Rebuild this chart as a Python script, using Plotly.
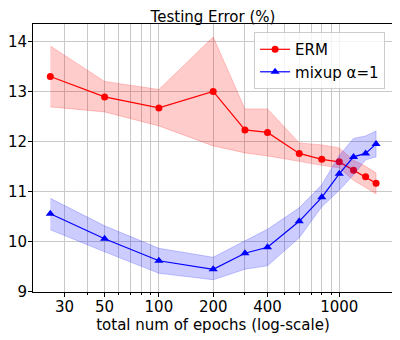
import plotly.graph_objects as go

# -----------------------------------------
# DATA
# -----------------------------------------
epochs = [25, 50, 100, 200, 300, 400, 600, 800, 1000, 1200, 1400, 1600]

erm_mean = [13.30, 12.89, 12.67, 13.00, 12.23, 12.18, 11.76, 11.64, 11.59, 11.42, 11.29, 11.16]
erm_upper = [13.91, 13.20, 13.04, 14.09, 12.65, 12.65, 11.97, 11.93, 11.87, 11.62, 11.50, 11.37]
erm_lower = [12.69, 12.59, 12.31, 11.91, 11.77, 11.71, 11.60, 11.52, 11.47, 11.22, 11.08, 10.95]

mixup_mean = [10.55, 10.05, 9.61, 9.44, 9.76, 9.88, 10.40, 10.88, 11.35, 11.69, 11.76, 11.95]
mixup_upper = [10.86, 10.31, 9.86, 9.68, 10.01, 10.24, 10.67, 11.13, 11.72, 12.06, 12.11, 12.21]
mixup_lower = [10.23, 9.79, 9.36, 9.23, 9.44, 9.51, 10.07, 10.69, 11.02, 11.33, 11.63, 11.69]

x_major = [30, 50, 100, 200, 400, 1000]
x_major_text = ["30", "50", "100", "200", "400", "1000"]
x_minor = [40, 60, 70, 80, 90, 300, 500, 600, 700, 800, 900]
y_ticks = [9, 10, 11, 12, 13, 14]

FONT = "DejaVu Sans"
GRID = "#c9c9c9"
FS = 15

# the page body keeps its default 8px margin, so the figure is 8px smaller
# than the window and every offset below is measured from that corner
W, H = 392, 332


# -----------------------------------------
# HELPERS
# -----------------------------------------
def band(x, upper, lower, rgba):
    # closed polygon: upper edge left->right, lower edge right->left
    return go.Scatter(
        x=list(x) + list(x)[::-1],
        y=list(upper) + list(lower)[::-1],
        fill="toself",
        fillcolor=rgba,
        line=dict(color=rgba, width=1),
        mode="lines",
        hoverinfo="skip",
        showlegend=False,
    )


def line(x, y, name, color, symbol, size):
    return go.Scatter(
        x=x, y=y, name=name,
        mode="lines+markers",
        line=dict(color=color, width=1.2),
        marker=dict(color=color, symbol=symbol, size=size),
    )


# -----------------------------------------
# FIGURE
# -----------------------------------------
fig = go.Figure()
fig.add_trace(band(epochs, erm_upper, erm_lower, "rgba(255,0,0,0.2)"))
fig.add_trace(line(epochs, erm_mean, "ERM", "#ff0000", "circle", 7))
fig.add_trace(band(epochs, mixup_upper, mixup_lower, "rgba(0,0,255,0.2)"))
fig.add_trace(line(epochs, mixup_mean, "mixup α=1", "#0000ff", "triangle-up", 8))

fig.update_xaxes(
    type="log",
    range=[1.302, 3.298],
    tickvals=x_major, ticktext=x_major_text,
    ticks="outside", ticklen=4, tickcolor="black",
    ticklabelstandoff=-3,
    showgrid=True, gridcolor=GRID, gridwidth=1,
    minor=dict(tickvals=x_minor, ticks="outside", ticklen=2,
               tickcolor="black", showgrid=True, gridcolor=GRID, gridwidth=1),
    showline=True, linecolor="black", linewidth=1, mirror=True,
    zeroline=False, automargin=False,
    title=dict(text="total num of epochs (log-scale)", standoff=2,
               font=dict(size=FS, family=FONT, color="black")),
    tickfont=dict(size=FS, family=FONT, color="black"),
)

fig.update_yaxes(
    range=[8.985, 14.35],
    tickvals=y_ticks,
    ticks="outside", ticklen=4, tickcolor="black",
    ticklabelstandoff=-2,
    showgrid=True, gridcolor=GRID, gridwidth=1,
    showline=True, linecolor="black", linewidth=1, mirror=True,
    zeroline=False, automargin=False,
    tickfont=dict(size=FS, family=FONT, color="black"),
)

fig.update_layout(
    width=W, height=H,
    margin=dict(l=25, r=7, t=16, b=48),
    paper_bgcolor="white", plot_bgcolor="white",
    title=dict(text="Testing Error (%)", x=0.5, xref="paper",
               y=1 - 8.5 / H, yref="container", yanchor="middle",
               font=dict(size=FS, family=FONT, color="black")),
    legend=dict(x=0.978, y=0.97, xanchor="right", yanchor="top",
                bgcolor="rgba(255,255,255,0.8)", bordercolor="#cccccc",
                borderwidth=1, font=dict(size=FS, family=FONT, color="black"),
                itemwidth=30, tracegroupgap=0),
    showlegend=True,
)

fig.write_html("out.html")
